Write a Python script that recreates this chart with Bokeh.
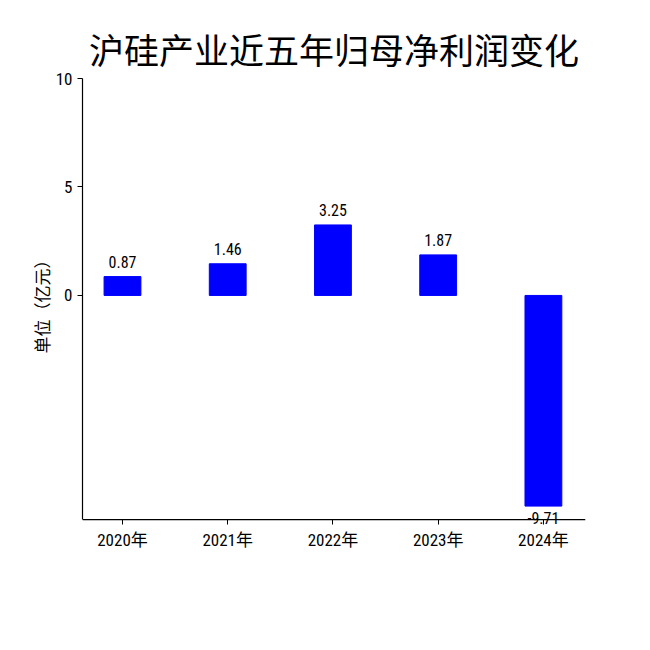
from bokeh.plotting import figure
from bokeh.models import Range1d, FixedTicker, Span
from bokeh.core.properties import value
from bokeh.embed import file_html
from bokeh.resources import INLINE

years = ["2020年", "2021年", "2022年", "2023年", "2024年"]
profits = [0.87, 1.46, 3.25, 1.87, -9.71]
y_ticks = [0, 5, 10]
y_axis_limits = (-10.33, 10)   # visible extent of the value axis
y_view = (-10.65, 10)          # frame extent (a little room below for the -9.71 label)

FONT = "'Roboto Condensed', 'Noto Sans CJK SC'"

xs = list(range(len(years)))

p = figure(width=634, height=634, output_backend="svg", toolbar_location=None,
           x_range=Range1d(-0.38, 4.40), y_range=Range1d(*y_view),
           min_border_left=82, min_border_right=49, min_border_top=78, min_border_bottom=108)

p.title.text = "沪硅产业近五年归母净利润变化"
p.title.align = "center"
p.title.text_font = "'Noto Sans CJK SC'"
p.title.text_font_size = "35px"
p.title.text_font_style = "normal"
p.title.text_color = "black"

p.vbar(x=xs, top=profits, bottom=0, width=0.35, color="#0000FF")

pos = [(x, v) for x, v in zip(xs, profits) if v >= 0]
neg = [(x, v) for x, v in zip(xs, profits) if v < 0]
p.text(x=[a for a, _ in pos], y=[b for _, b in pos], text=[f"{b:.2f}" for _, b in pos],
       text_align="center", text_baseline="alphabetic", y_offset=-15,
       text_font=value(FONT), text_font_size="16px", text_color="black")
p.text(x=[a for a, _ in neg], y=[b for _, b in neg], text=[f"{b:.2f}" for _, b in neg],
       text_align="center", text_baseline="top", y_offset=6,
       text_font=value(FONT), text_font_size="16px", text_color="black", level="overlay")

# bottom spine at the lower axis limit
p.add_layout(Span(location=y_axis_limits[0], dimension="width", line_color="black", line_width=1.2))

p.xgrid.visible = False
p.ygrid.visible = False
p.outline_line_color = None

p.xaxis.ticker = FixedTicker(ticks=xs)
p.xaxis.major_label_overrides = {i: y for i, y in enumerate(years)}
p.yaxis.ticker = FixedTicker(ticks=y_ticks)
p.yaxis.bounds = y_axis_limits
p.yaxis.axis_label = "单位（亿元）"
p.yaxis.axis_label_text_font = FONT
p.yaxis.axis_label_text_font_size = "17px"
p.yaxis.axis_label_text_font_style = "normal"
p.yaxis.axis_label_text_color = "black"
p.yaxis.axis_label_standoff = 0

for ax in (p.xaxis, p.yaxis):
    ax.major_label_text_font = FONT
    ax.major_label_text_font_size = "17px"
    ax.major_label_text_color = "black"
    ax.axis_line_color = "black"
    ax.axis_line_width = 1.2
    ax.major_tick_line_color = "black"
    ax.minor_tick_line_color = None
p.yaxis.major_tick_in = 0
p.yaxis.major_tick_out = 5
p.yaxis.major_label_standoff = 5
p.xaxis.axis_line_color = None
p.xaxis.major_tick_in = 7
p.xaxis.major_tick_out = -2
p.xaxis.major_label_standoff = 3

open("out.html", "w").write(file_html(p, INLINE))
